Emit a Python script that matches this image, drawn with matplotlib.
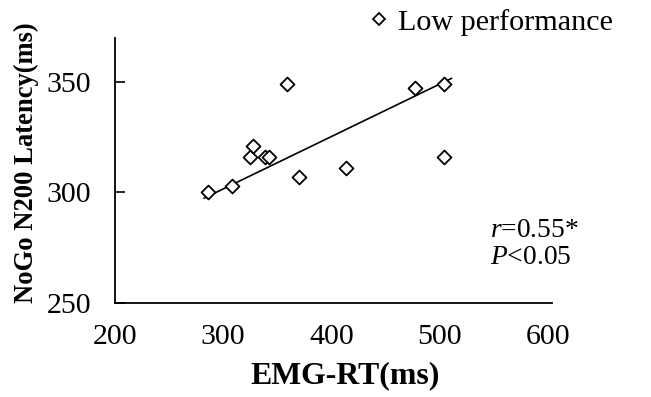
import numpy as np
import matplotlib
matplotlib.use("Agg")
import matplotlib.pyplot as plt
from matplotlib.lines import Line2D

plt.rcParams['font.family'] = ['Liberation Serif', 'DejaVu Serif']
plt.rcParams['mathtext.fontset'] = 'custom'
plt.rcParams['mathtext.rm'] = 'Liberation Serif'
plt.rcParams['mathtext.it'] = 'Liberation Serif:italic'

# EMG reaction time vs NoGo N200 latency, low-performance group
emg_rt = [286, 308, 325, 328, 339, 342, 359, 370, 414, 477, 504, 504]
n200_latency = [300, 303, 316, 321, 316, 316, 349, 307, 311, 347, 349, 316]
# trend line end points
trend_x = [282.5, 511]
trend_y = [297.4, 351.5]

x_ticks = [200, 300, 400, 500, 600]
y_ticks = [250, 300, 350]

fig = plt.figure(figsize=(6.51, 3.97), dpi=100)
ax = fig.add_axes([115 / 651, 1 - 303 / 397, (552 - 115) / 651, (303 - 37.5) / 397])

ax.scatter(emg_rt, n200_latency, marker='D', s=50, facecolors='white',
           edgecolors='black', linewidths=1.3, zorder=3)
ax.plot(trend_x, trend_y, color='black', lw=1.2, zorder=2)

ax.set_xlim(200, 604)
ax.set_ylim(250, 370)
ax.set_xticks(x_ticks)
ax.set_yticks(y_ticks)
ax.tick_params(axis='x', length=0, pad=15, labelsize=21.5)
ax.tick_params(axis='y', direction='in', length=7, width=1.2, pad=17, labelsize=21.5)

for side in ('top', 'right'):
    ax.spines[side].set_visible(False)
for side in ('left', 'bottom'):
    ax.spines[side].set_linewidth(1.3)

fig.text(345.5 / 651, 1 - 376 / 397, 'EMG-RT(ms)', fontsize=22.9,
         fontweight='bold', ha='center', va='center')
fig.text(26 / 651, 1 - 162.5 / 397, 'NoGo N200 Latency(ms)', rotation=90,
         fontsize=19.2, fontweight='bold', ha='center', va='center')

fig.text(490 / 651, 1 - 230 / 397, r'$\mathit{r}$=0.55*', fontsize=19.8,
         ha='left', va='center')
fig.text(490 / 651, 1 - 258 / 397, r'$\mathit{P}$<0.05', fontsize=19.8,
         ha='left', va='center')

handle = Line2D([], [], marker='D', ls='none', markersize=6,
                markerfacecolor='white', markeredgecolor='black', markeredgewidth=1.3)
fig.legend([handle], ['Low performance'], loc='center left',
           bbox_to_anchor=(365 / 651, 1 - 22 / 397), frameon=False,
           fontsize=21.7, handletextpad=0.2, handlelength=0.9, borderpad=0,
           borderaxespad=0)

fig.savefig('out.png', dpi=100)
